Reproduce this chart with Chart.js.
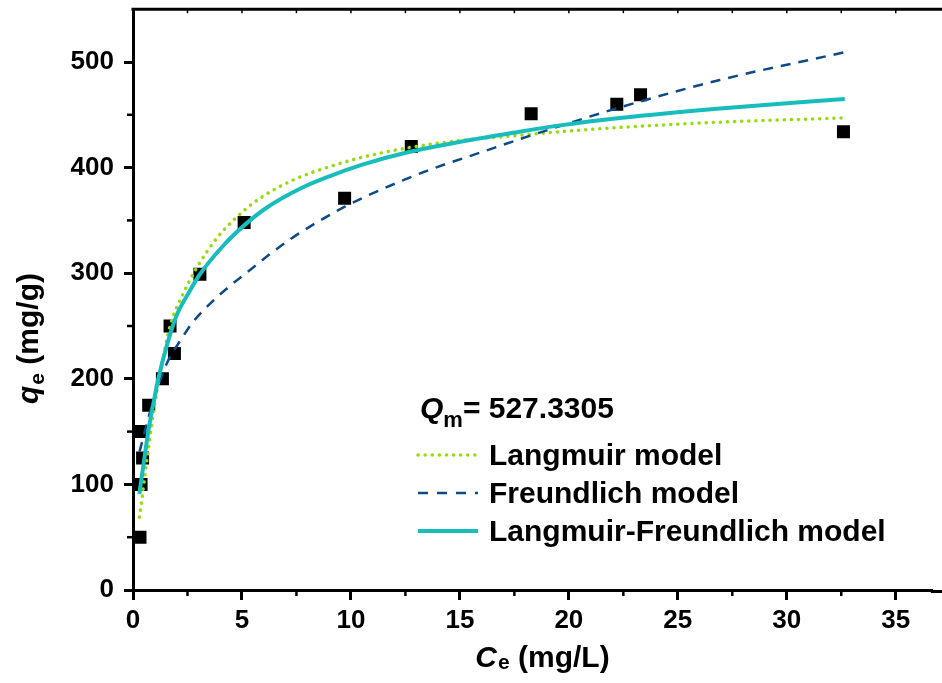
<!DOCTYPE html>
<html>
<head>
<meta charset="utf-8">
<title>Adsorption isotherm</title>
<script src="https://cdn.jsdelivr.net/npm/chart.js@4/dist/chart.umd.min.js"></script>
<style>
  body { margin: 0; background: #fff; }
  canvas { display: block; }
</style>
</head>
<body>
<canvas id="isothermChart" width="942" height="683"></canvas>
<script>
// -------------------- DATA --------------------
const expCe = [0.32, 0.37, 0.44, 0.32, 0.72, 1.35, 1.90, 1.70, 3.07, 5.10, 9.71, 12.77, 18.27, 22.20, 23.29, 32.60];
const expQe = [50, 100, 125, 150, 175, 200, 224, 250, 299, 348, 371, 420, 451, 460, 469, 434];

const langCe = [0.29, 0.40, 0.63, 0.93, 1.31, 1.70, 2.31, 2.92, 3.84, 4.75, 5.83, 7.43, 9.04, 10.56, 12.70, 15.15, 17.44, 19.60, 22.30, 26.90, 32.60];
const langQe = [69, 85, 122, 167, 212, 250, 281, 305, 333, 353, 371, 389, 401, 410, 419, 426, 430, 434, 438, 443, 447];

const freCe = [0.30, 0.86, 1.54, 2.23, 2.76, 3.53, 4.45, 5.37, 6.28, 7.20, 9.72, 11.48, 13.62, 15.90, 18.20, 22.34, 26.93, 32.60];
const freQe = [131, 174, 214, 238, 254, 271, 288, 303, 318, 332, 363, 380, 398, 414, 430, 457, 483, 509];

const lfCe = [0.29, 0.47, 0.70, 0.93, 1.16, 1.60, 2.00, 2.60, 3.07, 4.14, 5.14, 6.13, 7.66, 9.04, 10.56, 12.70, 15.15, 17.44, 19.60, 22.34, 26.93, 32.66];
const lfQe = [91, 117, 150, 176, 200, 235, 260, 283, 299, 326, 346, 362, 380, 392, 403, 415, 425, 433, 440, 447, 456, 465];

const xTicks = [0, 5, 10, 15, 20, 25, 30, 35];
const yTicks = [0, 100, 200, 300, 400, 500];
const qmLabel = "= 527.3305";
const modelNames = ["Langmuir model", "Freundlich model", "Langmuir-Freundlich model"];

const toPoints = (xs, ys) => xs.map((x, i) => ({ x: x, y: ys[i] }));

const FONT = "'Liberation Sans', Arial, Helvetica, sans-serif";

// -------------------- EXTRA DRAWING --------------------
// top frame, minor ticks, axis titles, Qm note and legend
const decorPlugin = {
  id: "decor",
  afterDraw(chart) {
    const ctx = chart.ctx;
    const area = chart.chartArea;
    const xs = chart.scales.x;
    const ys = chart.scales.y;

    ctx.save();
    ctx.strokeStyle = "#000";
    ctx.fillStyle = "#000";

    // top frame line, bottom axis runs on to the edge
    ctx.lineWidth = 3;
    ctx.beginPath();
    ctx.moveTo(area.left - 1.5, area.top);
    ctx.lineTo(chart.width, area.top);
    ctx.moveTo(area.right - 2, xs.top + 1.5);
    ctx.lineTo(chart.width, xs.top + 1.5);
    ctx.stroke();

    // minor ticks + small ticks on top frame
    ctx.lineWidth = 2.5;
    for (let v = 2.5; v < xs.max; v += 5) {
      const px = xs.getPixelForValue(v);
      ctx.beginPath();
      ctx.moveTo(px, area.bottom);
      ctx.lineTo(px, area.bottom + 6);
      ctx.stroke();
    }
    for (let v = 50; v < ys.max; v += 100) {
      const py = ys.getPixelForValue(v);
      ctx.beginPath();
      ctx.moveTo(area.left, py);
      ctx.lineTo(area.left - 6, py);
      ctx.stroke();
    }
    ctx.lineWidth = 1.5;
    for (let v = 2.5; v < xs.max; v += 2.5) {
      const px = xs.getPixelForValue(v);
      ctx.beginPath();
      ctx.moveTo(px, area.top);
      ctx.lineTo(px, area.top + 4);
      ctx.stroke();
    }

    // x axis title: Ce (mg/L)
    ctx.textBaseline = "alphabetic";
    ctx.textAlign = "left";
    const big = "bold 30px " + FONT;
    const bigIt = "italic bold 30px " + FONT;
    const sub = "bold 21px " + FONT;

    ctx.font = bigIt; const wC = ctx.measureText("C").width;
    ctx.font = sub; const wE = ctx.measureText("e").width;
    ctx.font = big; const wRest = ctx.measureText(" (mg/L)").width;
    let x0 = 542 - (wC + wE + wRest) / 2;
    const by = 667;
    ctx.font = bigIt; ctx.fillText("C", x0, by);
    ctx.font = sub; ctx.fillText("e", x0 + wC + 1, by + 2);
    ctx.font = big; ctx.fillText(" (mg/L)", x0 + wC + wE + 1, by);

    // y axis title: qe (mg/g)
    ctx.save();
    ctx.translate(38, 339);
    ctx.rotate(-Math.PI / 2);
    ctx.font = bigIt; const wq = ctx.measureText("q").width;
    ctx.font = sub; const we2 = ctx.measureText("e").width;
    ctx.font = big; const wr2 = ctx.measureText(" (mg/g)").width;
    let s0 = -(wq + we2 + wr2) / 2;
    ctx.font = bigIt; ctx.fillText("q", s0, 0);
    ctx.font = sub; ctx.fillText("e", s0 + wq + 1, 6);
    ctx.font = big; ctx.fillText(" (mg/g)", s0 + wq + we2 + 1, 0);
    ctx.restore();

    // Qm note
    const lx = 418;
    ctx.font = bigIt; ctx.fillText("Q", lx + 2, 418);
    const wQ = ctx.measureText("Q").width;
    ctx.font = "bold 22px " + FONT; ctx.fillText("m", lx + 2 + wQ, 427);
    const wm = ctx.measureText("m").width;
    ctx.font = big; ctx.fillText(qmLabel, lx + 2 + wQ + wm, 418);

    // legend
    const rows = [455, 493, 531];
    const lineSets = [chart.data.datasets[0], chart.data.datasets[1], chart.data.datasets[2]];
    lineSets.forEach((ds, i) => {
      const y = rows[i];
      ctx.save();
      ctx.strokeStyle = ds.borderColor;
      ctx.lineWidth = ds.borderWidth;
      ctx.lineCap = ds.borderCapStyle || "butt";
      ctx.setLineDash(ds.legendDash || []);
      ctx.beginPath();
      ctx.moveTo(lx, y);
      ctx.lineTo(lx + 60, y);
      ctx.stroke();
      ctx.restore();
      ctx.font = big;
      ctx.fillText(modelNames[i], lx + 71, y + 10);
    });

    ctx.restore();
  }
};

// -------------------- CHART --------------------
const canvas = document.getElementById("isothermChart");

new Chart(canvas, {
  type: "scatter",
  data: {
    datasets: [
      {
        label: modelNames[0],
        data: toPoints(langCe, langQe),
        showLine: true,
        borderColor: "#97dc0c",
        borderWidth: 3.5,
        borderDash: [0.1, 7],
        legendDash: [0.1, 7],
        borderCapStyle: "round",
        cubicInterpolationMode: "monotone",
        pointRadius: 0,
        order: 3
      },
      {
        label: modelNames[1],
        data: toPoints(freCe, freQe),
        showLine: true,
        borderColor: "#0d4a88",
        borderWidth: 2.5,
        borderDash: [10, 8],
        legendDash: [10, 9],
        cubicInterpolationMode: "monotone",
        pointRadius: 0,
        order: 2
      },
      {
        label: modelNames[2],
        data: toPoints(lfCe, lfQe),
        showLine: true,
        borderColor: "#17bcbc",
        borderWidth: 4,
        cubicInterpolationMode: "monotone",
        pointRadius: 0,
        order: 1
      },
      {
        label: "Experimental",
        data: toPoints(expCe, expQe),
        pointStyle: "rect",
        pointRadius: 9.2,
        pointBackgroundColor: "#000",
        pointBorderWidth: 0,
        order: 4
      }
    ]
  },
  options: {
    responsive: false,
    animation: false,
    layout: { padding: { top: 9, right: 2, left: 0, bottom: 0 } },
    plugins: {
      legend: { display: false },
      tooltip: { enabled: false }
    },
    scales: {
      x: {
        type: "linear",
        min: 0,
        max: 36.7,
        afterFit: (scale) => {
          scale.height = 93;
          scale.paddingLeft = 0;
          scale.paddingRight = 0;
        },
        afterBuildTicks: (scale) => { scale.ticks = xTicks.map((v) => ({ value: v })); },
        border: { color: "#000", width: 3 },
        grid: { drawOnChartArea: false, color: "#000", tickLength: 10, tickWidth: 3 },
        ticks: {
          includeBounds: false,
          padding: 5,
          color: "#000",
          font: { family: FONT, size: 26, weight: "bold" }
        }
      },
      y: {
        min: 0,
        max: 550,
        afterFit: (scale) => {
          scale.width = 133;
          scale.paddingTop = 0;
          scale.paddingBottom = 0;
        },
        afterBuildTicks: (scale) => { scale.ticks = yTicks.map((v) => ({ value: v })); },
        border: { color: "#000", width: 3 },
        grid: { drawOnChartArea: false, color: "#000", tickLength: 9, tickWidth: 3 },
        ticks: {
          includeBounds: false,
          padding: 10,
          color: "#000",
          font: { family: FONT, size: 26, weight: "bold" }
        }
      }
    }
  },
  plugins: [decorPlugin]
});
</script>
</body>
</html>
